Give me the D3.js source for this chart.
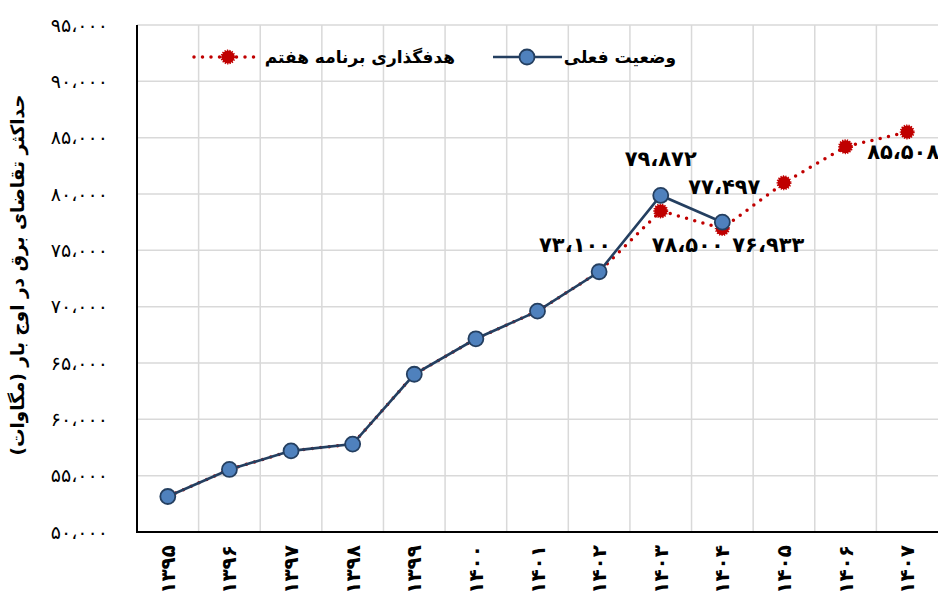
<!DOCTYPE html>
<html><head><meta charset="utf-8">
<script src="https://cdn.jsdelivr.net/npm/d3@7"></script>
<style>
html,body{margin:0;padding:0;background:#fff;overflow:hidden}
svg{display:block}
text{font-family:"DejaVu Sans",sans-serif}
</style></head>
<body>
<svg id="c" width="938" height="596"></svg>
<script>
// ---- data ----
const years = ["1395","1396","1397","1398","1399","1400","1401","1402","1403","1404","1405","1406","1407"];
const actual = [53150, 55550, 57200, 57800, 64000, 67150, 69600, 73100, 79872, 77497];
const target = [53150, 55550, 57200, 57800, 64000, 67150, 69600, 73100, 78500, 76933, 81000, 84200, 85508];
const yTicks = [50000, 55000, 60000, 65000, 70000, 75000, 80000, 85000, 90000, 95000];
const seriesNames = ["وضعیت فعلی", "هدفگذاری برنامه هفتم"];
const yTitle = "حداکثر تقاضای برق در اوج بار (مگاوات)";
// labelled points: [series, index]
const labelled = [["actual",7],["actual",8],["actual",9],["target",8],["target",9],["target",12]];
// label placement (style): dx, dy, anchor
const labelPlace = [[12,-27,"end"],[0,-37,"middle"],[2,-36,"middle"],[27,34,"middle"],[46,16,"middle"],[-40,20,"start"]];

const fa = s => s.replace(/[0-9]/g, d => "۰۱۲۳۴۵۶۷۸۹"[+d]).replace(/,/g, "،");
const fmt = v => fa(d3.format(",")(v));

const svg = d3.select("#c");
const L = 137, R = 938, T = 25, B = 532;
const x = d3.scaleBand().domain(years).range([L, R]);
const y = d3.scaleLinear().domain([50000, 95000]).range([B, T]);
const cx = d => x(d) + x.bandwidth()/2;

// grid
const g = svg.append("g");
g.selectAll(".hg").data(yTicks).join("line")
  .attr("x1", L).attr("x2", R).attr("y1", d=>y(d)).attr("y2", d=>y(d))
  .attr("stroke", "#d9d9d9").attr("stroke-width", 1.5);
g.selectAll(".vg").data(years.slice(1)).join("line")
  .attr("x1", d=>x(d)).attr("x2", d=>x(d)).attr("y1", T).attr("y2", B)
  .attr("stroke", "#d9d9d9").attr("stroke-width", 1.5);

// axes
const yAxis = svg.append("g").attr("transform", `translate(${L},0)`)
  .call(d3.axisLeft(y).tickValues(yTicks).tickFormat(fmt).tickSize(0).tickPadding(29));
yAxis.select(".domain").remove();
yAxis.selectAll("text").attr("font-size", 19).attr("fill", "#000").attr("font-family", "DejaVu Sans");

const xAxis = svg.append("g").attr("transform", `translate(0,${B})`)
  .call(d3.axisBottom(x).tickFormat(fa).tickSize(0));
xAxis.select(".domain").remove();
xAxis.selectAll("text")
  .attr("transform", "rotate(-90)")
  .attr("text-anchor", "end").attr("dy", "0.35em").attr("x", -13).attr("y", 0)
  .attr("font-size", 20).attr("font-weight", "bold").attr("fill", "#000").attr("font-family", "DejaVu Sans");

svg.append("line").attr("x1", L).attr("x2", L).attr("y1", T).attr("y2", B+1).attr("stroke", "#000").attr("stroke-width", 2);
svg.append("line").attr("x1", L-1).attr("x2", R).attr("y1", B).attr("y2", B).attr("stroke", "#000").attr("stroke-width", 2);

// y title
svg.append("text").attr("transform", `translate(18,275) rotate(-90)`)
  .attr("text-anchor", "middle").attr("dy", "0.35em")
  .attr("font-size", 18.5).attr("font-weight", "bold").attr("fill", "#000")
  .text(yTitle);

// marker helpers
const redMarker = (sel, px, py, r) => {
  sel.append("circle").attr("cx", px).attr("cy", py).attr("r", r)
    .attr("fill", "#c00000").attr("stroke", "#c00000").attr("stroke-width", 2).attr("stroke-dasharray", "1.2 1.2");
};
const blueMarker = (sel, px, py) => {
  sel.append("circle").attr("cx", px).attr("cy", py).attr("r", 7.5)
    .attr("fill", "#4f81bd").attr("stroke", "#243f60").attr("stroke-width", 1.8);
};

// target series
const lineGen = d3.line().x((d,i)=>cx(years[i])).y(d=>y(d));
svg.append("path").attr("d", lineGen(target)).attr("fill", "none")
  .attr("stroke", "#c00000").attr("stroke-width", 3.5)
  .attr("stroke-linecap", "round").attr("stroke-dasharray", "0 8.5");
const tg = svg.append("g");
target.forEach((v,i)=> redMarker(tg, cx(years[i]), y(v), 6.5));

// actual series
svg.append("path").attr("d", lineGen(actual)).attr("fill", "none")
  .attr("stroke", "#243f60").attr("stroke-width", 2.6);
const ag = svg.append("g");
actual.forEach((v,i)=> blueMarker(ag, cx(years[i]), y(v)));

// data labels
labelled.forEach((l,k)=>{
  const arr = l[0] === "actual" ? actual : target;
  const v = arr[l[1]];
  const p = labelPlace[k];
  svg.append("text").attr("x", cx(years[l[1]]) + p[0]).attr("y", y(v) + p[1])
    .attr("text-anchor", p[2]).attr("dy", "0.35em")
    .attr("font-size", 21).attr("font-weight", "bold").attr("fill", "#000")
    .text(fmt(v));
});

// legend
const lg = svg.append("g");
lg.append("line").attr("x1", 194).attr("x2", 262).attr("y1", 57).attr("y2", 57)
  .attr("stroke", "#c00000").attr("stroke-width", 3.5).attr("stroke-linecap", "round").attr("stroke-dasharray", "0 8.5");
redMarker(lg, 228, 57, 6.5);
lg.append("text").attr("x", 455).attr("y", 57).attr("dy", "0.35em").attr("text-anchor", "end")
  .attr("font-size", 17).attr("font-weight", "bold").attr("fill", "#000").text(seriesNames[1]);
lg.append("line").attr("x1", 493).attr("x2", 562).attr("y1", 57).attr("y2", 57)
  .attr("stroke", "#243f60").attr("stroke-width", 2.6);
blueMarker(lg, 527, 57);
lg.append("text").attr("x", 676).attr("y", 57).attr("dy", "0.35em").attr("text-anchor", "end")
  .attr("font-size", 17).attr("font-weight", "bold").attr("fill", "#000").text(seriesNames[0]);
</script>
</body></html>
